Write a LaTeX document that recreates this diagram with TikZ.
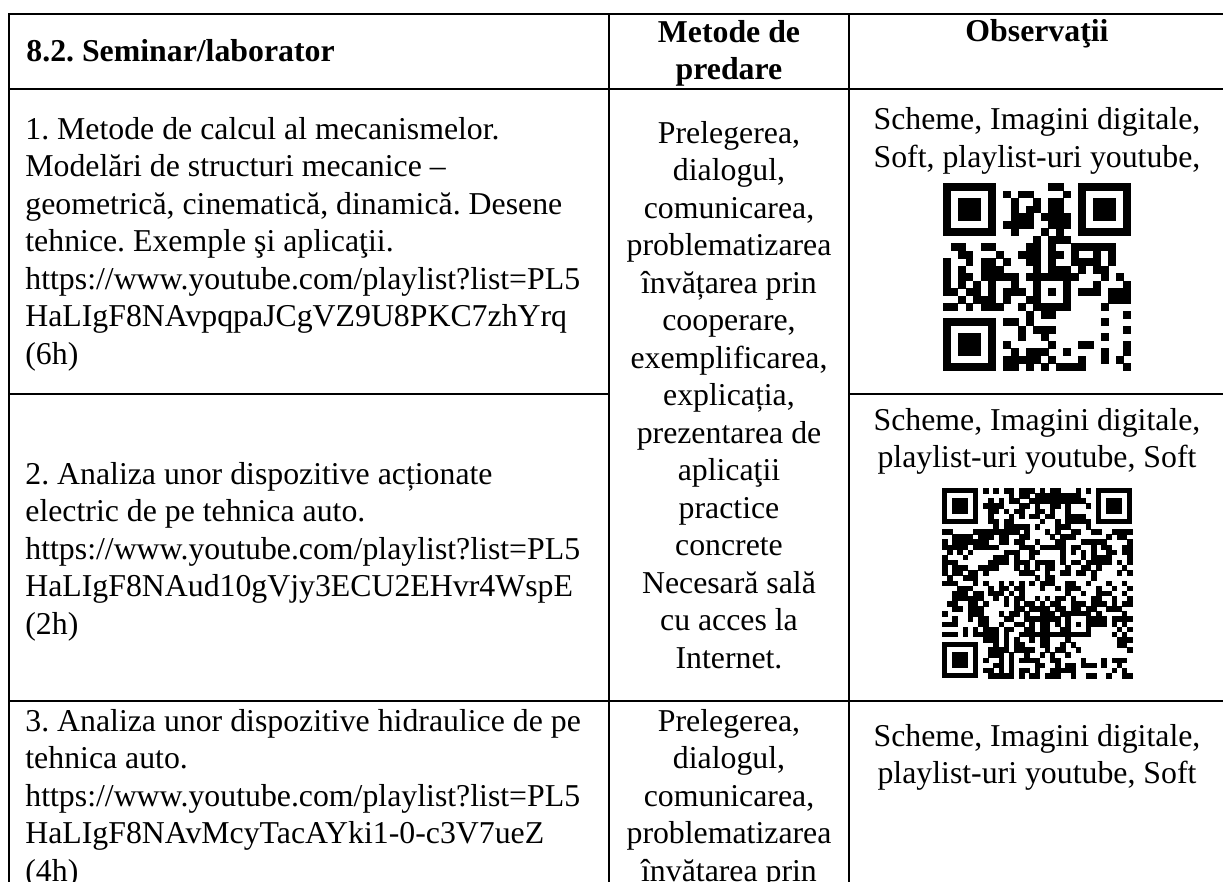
\documentclass[tikz,border=0pt]{standalone}
\usepackage{fontspec}
\setmainfont{Liberation Serif}
\frenchspacing
\newcommand{\cellfont}{\fontsize{15.9}{18.75}\selectfont}
\newcommand{\fakeqr}[6]{%
  \pgfmathsetseed{#6}%
  \pgfmathtruncatemacro{\qrmax}{#5-1}%
  \pgfmathtruncatemacro{\qrfar}{#5-7}%
  \pgfmathtruncatemacro{\qral}{#5-9}%
  \foreach \qi in {0,...,\qrmax}{%
    \foreach \qj in {0,...,\qrmax}{%
      \pgfmathtruncatemacro{\qrskipit}{((\qi<8)&&(\qj<8))||((\qi>\qrmax-8)&&(\qj<8))||((\qi<8)&&(\qj>\qrmax-8))||((\qi>\qrmax-10)&&(\qi<\qrmax-3)&&(\qj>\qrmax-10)&&(\qj<\qrmax-3))}%
      \ifnum\qrskipit=0
        \pgfmathrandominteger{\qrr}{0}{1}%
        \ifnum\qrr=1
          \fill (#1+\qi*#3,#2+\qj*#4) rectangle ++(#3+0.4,#4+0.4);
        \fi
      \fi
    }%
  }%
  % finder patterns
  \foreach \fx/\fy in {0/0,\qrfar/0,0/\qrfar}{%
    \fill ({#1+(\fx)*#3},{#2+(\fy)*#4}) rectangle ++(7*#3,7*#4);
    \fill[white] ({#1+(\fx+1)*#3},{#2+(\fy+1)*#4}) rectangle ++(5*#3,5*#4);
    \fill ({#1+(\fx+2)*#3},{#2+(\fy+2)*#4}) rectangle ++(3*#3,3*#4);
  }%
  % alignment pattern
  \fill ({#1+(\qral)*#3-4*#3},{#2+(\qral)*#4-4*#4}) rectangle ++(5*#3,5*#4);
  \fill[white] ({#1+(\qral)*#3-3*#3},{#2+(\qral)*#4-3*#4}) rectangle ++(3*#3,3*#4);
  \fill ({#1+(\qral)*#3-2*#3},{#2+(\qral)*#4-2*#4}) rectangle ++(#3,#4);
}
\begin{document}
\begin{tikzpicture}[x=0.5pt,y=-0.5pt,
  tbl/.style={line width=1.35pt, line cap=rect},
  cell/.style={inner sep=0pt, font=\cellfont},
  lcell/.style={cell, anchor=north west, align=left},
  ccell/.style={cell, anchor=north, align=center},
  hcell/.style={cell, font=\cellfont\bfseries}]
\useasboundingbox (0,0) rectangle (1223,882);
\fill[white] (0,0) rectangle (1223,882);
% table rules
\draw[tbl] (9,900) -- (9,14) -- (1240,14);
\draw[tbl] (9,89) -- (1240,89);
\draw[tbl] (9,394) -- (609,394);
\draw[tbl] (849,394) -- (1240,394);
\draw[tbl] (9,701) -- (1240,701);
\draw[tbl] (609,14) -- (609,900);
\draw[tbl] (849,14) -- (849,900);
% header
\node[hcell, anchor=base west] (h1) at (26,62) {8.2. Seminar/laborator};
\node[hcell, anchor=north, align=center] (h2) at (729,15.75) {\strut Metode de\\predare};
\node[hcell, anchor=base] (h3) at (1037,42) {Observaţii};
% column 1
\node[lcell] (r1c1) at (25,112.75) {\strut 1. Metode de calcul al mecanismelor.\\Modelări de structuri mecanice –\\geometrică, cinematică, dinamică. Desene\\tehnice. Exemple şi aplicaţii.\\https://www.youtube.com/playlist?list=PL5\\HaLIgF8NAvpqpaJCgVZ9U8PKC7zhYrq\\(6h)};
\node[lcell] (r2c1) at (25,457.75) {\strut 2. Analiza unor dispozitive acționate\\electric de pe tehnica auto.\\https://www.youtube.com/playlist?list=PL5\\HaLIgF8NAud10gVjy3ECU2EHvr4WspE\\(2h)};
\node[lcell] (r3c1) at (25,704.75) {\strut 3. Analiza unor dispozitive hidraulice de pe\\tehnica auto.\\https://www.youtube.com/playlist?list=PL5\\HaLIgF8NAvMcyTacAYki1-0-c3V7ueZ\\(4h)};
% column 2
\node[ccell] (r12c2) at (729,116.75) {\strut Prelegerea,\\dialogul,\\comunicarea,\\problematizarea\\învățarea prin\\cooperare,\\exemplificarea,\\explicația,\\prezentarea de\\aplicaţii\\practice\\concrete\\Necesară sală\\cu acces la\\Internet.};
\node[ccell] (r3c2) at (729,704.75) {\strut Prelegerea,\\dialogul,\\comunicarea,\\problematizarea\\învățarea prin};
% column 3
\node[ccell] (r1c3) at (1037,103) {\strut Scheme, Imagini digitale,\\Soft, playlist-uri youtube,};
\node[ccell] (r2c3) at (1037,403.75) {\strut Scheme, Imagini digitale,\\playlist-uri youtube, Soft};
\node[ccell] (r3c3) at (1037,719.75) {\strut Scheme, Imagini digitale,\\playlist-uri youtube, Soft};
% QR codes
\fakeqr{943}{183}{7.52}{7.52}{25}{42}
\fakeqr{942}{488}{5.14}{5.14}{37}{7}
\end{tikzpicture}
\end{document}
